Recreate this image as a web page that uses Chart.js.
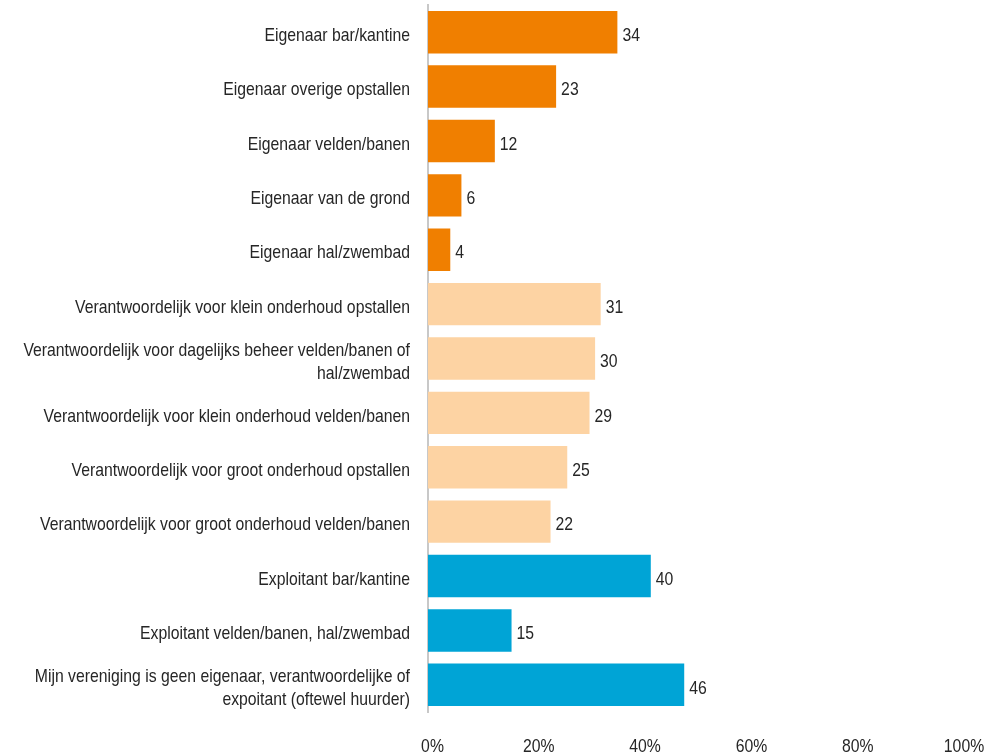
<!DOCTYPE html>
<html>
<head>
<meta charset="utf-8">
<script src="https://cdn.jsdelivr.net/npm/chart.js@4/dist/chart.umd.min.js"></script>
<style>
  html, body { margin: 0; padding: 0; background: #ffffff; }
  canvas { display: block; }
</style>
</head>
<body>
<canvas id="chart" width="990" height="755"></canvas>
<script>
// Categories (multi-line labels as arrays)
const categories = [
  'Eigenaar bar/kantine',
  'Eigenaar overige opstallen',
  'Eigenaar velden/banen',
  'Eigenaar van de grond',
  'Eigenaar hal/zwembad',
  'Verantwoordelijk voor klein onderhoud opstallen',
  ['Verantwoordelijk voor dagelijks beheer velden/banen of', 'hal/zwembad'],
  'Verantwoordelijk voor klein onderhoud velden/banen',
  'Verantwoordelijk voor groot onderhoud opstallen',
  'Verantwoordelijk voor groot onderhoud velden/banen',
  'Exploitant bar/kantine',
  'Exploitant velden/banen, hal/zwembad',
  ['Mijn vereniging is geen eigenaar, verantwoordelijke of', 'expoitant (oftewel huurder)']
];

// Percentages per category
const values = [34, 23, 12, 6, 4, 31, 30, 29, 25, 22, 40, 15, 46];

// Group of each category: eigenaar / verantwoordelijk / exploitant
const groups = ['own', 'own', 'own', 'own', 'own',
                'resp', 'resp', 'resp', 'resp', 'resp',
                'expl', 'expl', 'expl'];

// Percentage tick labels along the bottom
const tickValues = [0, 20, 40, 60, 80, 100];

const groupColors = { own: '#F07F00', resp: '#FDD3A3', expl: '#00A4D6' };
const FONT = '19px "Liberation Sans", Arial, sans-serif';
const NARROW = 0.83;          // horizontal squeeze for a narrow face
const LINE_H = 23;
const TEXT = '#262626';

// Draws text squeezed horizontally around its anchor point
function narrowText(ctx, text, x, y, align) {
  ctx.save();
  ctx.translate(x, y);
  ctx.scale(NARROW, 1);
  ctx.textAlign = align;
  ctx.fillText(text, 0, 0);
  ctx.restore();
}

// Category names, percentage ticks and bar values in the narrow face
const narrowLabels = {
  id: 'narrowLabels',
  afterDraw(chart) {
    const ctx = chart.ctx;
    const yScale = chart.scales.y;
    const pct = chart.scales.pct;
    const meta = chart.getDatasetMeta(0);
    ctx.save();
    ctx.font = FONT;
    ctx.fillStyle = TEXT;
    ctx.textBaseline = 'middle';

    categories.forEach((label, i) => {
      const lines = Array.isArray(label) ? label : [label];
      const cy = yScale.getPixelForValue(i) + 3.5;
      const y0 = cy - (lines.length - 1) * LINE_H / 2;
      lines.forEach((line, k) => {
        narrowText(ctx, line, yScale.right - 18, y0 + k * LINE_H, 'right');
      });
    });

    tickValues.forEach(v => {
      narrowText(ctx, v + '%', pct.getPixelForValue(v), 747, 'center');
    });

    meta.data.forEach((bar, i) => {
      narrowText(ctx, String(values[i]), bar.x + 5, bar.y + 3.5, 'left');
    });
    ctx.restore();
  }
};

new Chart(document.getElementById('chart'), {
  type: 'bar',
  data: {
    labels: categories,
    datasets: [{
      data: values,
      backgroundColor: groups.map(g => groupColors[g]),
      borderWidth: 0,
      barPercentage: 0.78,
      categoryPercentage: 1.0,
      xAxisID: 'x'
    }]
  },
  options: {
    indexAxis: 'y',
    responsive: false,
    animation: false,
    layout: { padding: { left: 0, right: 5, top: 5, bottom: 0 } },
    plugins: {
      legend: { display: false },
      tooltip: { enabled: false }
    },
    scales: {
      x: {
        display: false,
        min: 0,
        max: 100
      },
      pct: {
        type: 'linear',
        axis: 'x',
        position: 'bottom',
        min: -0.85,
        max: 103.95,
        grid: { display: false, drawTicks: false },
        border: { display: false },
        ticks: { display: false },
        afterFit(scale) {
          scale.height = 43;
          scale.paddingLeft = 0;
          scale.paddingRight = 0;
        }
      },
      y: {
        grid: { display: false, drawTicks: false },
        border: { display: true, color: '#c8c8c8', width: 2 },
        ticks: { display: false },
        afterFit(scale) {
          scale.width = 428;
          scale.paddingTop = 0;
          scale.paddingBottom = 0;
        }
      }
    }
  },
  plugins: [narrowLabels]
});
</script>
</body>
</html>
